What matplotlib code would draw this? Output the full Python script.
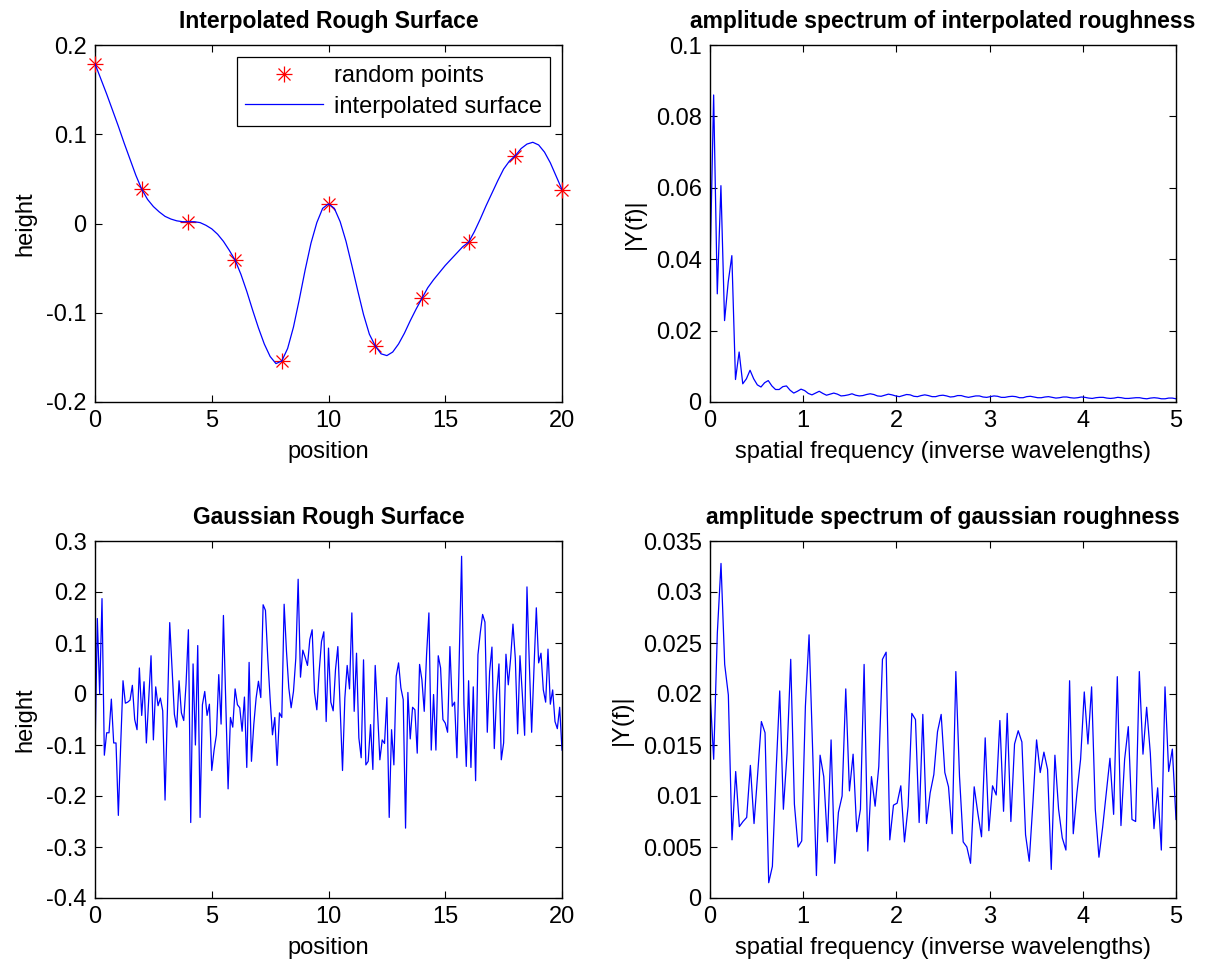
import matplotlib
matplotlib.use("Agg")
import matplotlib.pyplot as plt
import numpy as np
from matplotlib.legend_handler import HandlerTuple
from matplotlib.lines import Line2D
from matplotlib.ticker import FuncFormatter

plt.rcParams["font.family"] = ["Liberation Sans", "DejaVu Sans"]
plt.rcParams["axes.unicode_minus"] = False

# random control points of the rough surface
point_pos = [0, 2, 4, 6, 8, 10, 12, 14, 16, 18, 20]
point_height = [0.179, 0.0385, 0.002, -0.041, -0.154, 0.022, -0.137, -0.084, -0.021, 0.076, 0.038]

surf_height = [
    0.179, 0.162, 0.145, 0.127, 0.109, 0.090, 0.072, 0.054, 0.0385, 0.027,
    0.019, 0.013, 0.008, 0.005, 0.003, 0.002, 0.002, 0.002, 0.001, -0.002,
    -0.006, -0.012, -0.020, -0.030, -0.041, -0.057, -0.076, -0.097, -0.117, -0.135,
    -0.149, -0.157, -0.154, -0.140, -0.116, -0.085, -0.052, -0.022, 0.001, 0.017,
    0.022, 0.017, 0.002, -0.020, -0.047, -0.075, -0.102, -0.124, -0.137, -0.146,
    -0.148, -0.144, -0.135, -0.123, -0.109, -0.096, -0.084, -0.072, -0.063, -0.055,
    -0.047, -0.040, -0.033, -0.026, -0.021, -0.009, 0.005, 0.020, 0.034, 0.048,
    0.061, 0.070, 0.076, 0.084, 0.089, 0.091, 0.088, 0.080, 0.068, 0.053,
    0.038,
]

# amplitude spectrum of the interpolated surface (0..5)
amp_interp = [
    0.037, 0.086, 0.0303, 0.0606, 0.0228, 0.0336, 0.041, 0.0063, 0.014, 0.0051,
    0.0065, 0.0089, 0.0065, 0.0048, 0.0042, 0.0054, 0.006, 0.0045, 0.0035, 0.0035,
    0.0043, 0.0045, 0.0033, 0.0025, 0.003, 0.0036, 0.0032, 0.0024, 0.002, 0.0025,
    0.003, 0.0024, 0.0019, 0.0022, 0.0025, 0.0022, 0.0017, 0.0018, 0.002, 0.0023,
    0.0019, 0.0017, 0.0018, 0.0021, 0.0023, 0.0021, 0.0017, 0.0016, 0.0019, 0.0022,
    0.0020, 0.0017, 0.0015, 0.0018, 0.0021, 0.0020, 0.0016, 0.0015, 0.0018, 0.0020,
    0.0018, 0.0015, 0.0015, 0.0018, 0.0019, 0.0017, 0.0014, 0.0015, 0.0018, 0.0018,
    0.0015, 0.0013, 0.0015, 0.0017, 0.0017, 0.0014, 0.0013, 0.0015, 0.0017, 0.0016,
    0.0013, 0.0013, 0.0015, 0.0016, 0.0015, 0.0012, 0.0012, 0.0015, 0.0016, 0.0014,
    0.0012, 0.0012, 0.0014, 0.0015, 0.0013, 0.0011, 0.0012, 0.0014, 0.0014, 0.0012,
    0.0011, 0.0012, 0.0014, 0.0013, 0.0011, 0.0010, 0.0012, 0.0013, 0.0013, 0.0011,
    0.0010, 0.0011, 0.0013, 0.0012, 0.0010, 0.0010, 0.0011, 0.0012, 0.0012, 0.0010,
    0.0009, 0.0011, 0.0012, 0.0011, 0.0009, 0.0009, 0.0011, 0.0011, 0.0009,
]

# gaussian rough surface, position 0..20 step 0.1
gauss_height = [
    -0.12, 0.148, 0.0, 0.187, -0.12, -0.076, -0.076, -0.01, -0.096, -0.096,
    -0.238, -0.1, 0.026, -0.018, -0.016, -0.012, 0.017, -0.05, -0.07, 0.051,
    -0.042, 0.024, -0.096, -0.01, 0.075, -0.09, 0.014, -0.023, -0.008, -0.033,
    -0.208, -0.03, 0.14, 0.051, -0.04, -0.065, 0.026, -0.037, -0.052, 0.02,
    0.126, -0.252, 0.059, -0.1, 0.095, -0.242, -0.021, 0.005, -0.042, -0.02,
    -0.15, -0.11, -0.08, 0.038, -0.059, 0.154, -0.02, -0.186, -0.046, -0.065,
    0.01, -0.021, -0.027, -0.073, -0.006, -0.144, 0.062, -0.132, -0.06, -0.008,
    0.025, -0.007, 0.175, 0.164, 0.07, -0.01, -0.08, -0.046, -0.14, -0.037,
    -0.046, 0.176, 0.084, 0.012, -0.027, 0.005, 0.07, 0.225, 0.033, 0.086,
    0.072, 0.056, 0.107, 0.126, 0.003, -0.031, 0.044, 0.103, 0.122, -0.054,
    0.09, -0.016, -0.033, 0.048, 0.093, -0.03, -0.15, -0.008, 0.056, 0.01,
    0.159, -0.034, 0.08, -0.086, -0.125, 0.067, -0.139, -0.132, -0.06, -0.148,
    0.056, -0.034, -0.129, -0.09, -0.097, -0.007, -0.242, -0.07, -0.139, 0.035,
    0.061, 0.012, -0.011, -0.263, 0.003, -0.088, -0.026, -0.031, -0.116, 0.058,
    0.028, -0.034, 0.077, 0.159, -0.11, -0.001, -0.11, 0.075, 0.051, -0.05,
    -0.057, -0.075, 0.093, -0.024, -0.016, -0.125, 0.07, 0.27, -0.02, -0.142,
    0.026, -0.144, 0.014, -0.17, 0.077, 0.12, 0.156, 0.141, -0.075, 0.044,
    0.092, -0.107, -0.001, 0.059, -0.129, -0.096, 0.078, 0.018, 0.07, 0.137,
    0.07, -0.078, 0.075, 0.0, -0.081, 0.21, 0.06, -0.075, 0.05, 0.169,
    0.061, 0.08, 0.008, -0.016, 0.088, -0.02, 0.008, -0.054, -0.068, -0.026,
    -0.11,
]

# amplitude spectrum of the gaussian surface (0..5)
amp_gauss = [
    0.0203, 0.0136, 0.0260, 0.0328, 0.0229, 0.0199, 0.0057, 0.0124, 0.0070, 0.0075,
    0.0079, 0.0130, 0.0073, 0.0122, 0.0173, 0.0162, 0.0015, 0.0031, 0.0123, 0.0203,
    0.0087, 0.0142, 0.0234, 0.0092, 0.0050, 0.0056, 0.0188, 0.0258, 0.0142, 0.0022,
    0.0140, 0.0119, 0.0055, 0.0155, 0.0034, 0.0084, 0.0100, 0.0205, 0.0105, 0.0141,
    0.0065, 0.0087, 0.0229, 0.0046, 0.0119, 0.0090, 0.0129, 0.0234, 0.0241, 0.0057,
    0.0091, 0.0093, 0.0110, 0.0055, 0.0090, 0.0181, 0.0175, 0.0074, 0.0180, 0.0073,
    0.0103, 0.0121, 0.0163, 0.0180, 0.0123, 0.0109, 0.0063, 0.0222, 0.0119, 0.0055,
    0.0050, 0.0034, 0.0109, 0.0083, 0.0060, 0.0157, 0.0066, 0.0110, 0.0101, 0.0174,
    0.0085, 0.0181, 0.0075, 0.0151, 0.0164, 0.0153, 0.0062, 0.0036, 0.0093, 0.0155,
    0.0123, 0.0143, 0.0126, 0.0028, 0.0140, 0.0087, 0.0059, 0.0047, 0.0213, 0.0063,
    0.0103, 0.0136, 0.0202, 0.0151, 0.0207, 0.0087, 0.0040, 0.0069, 0.0103, 0.0137,
    0.0082, 0.0217, 0.0071, 0.0136, 0.0168, 0.0077, 0.0075, 0.0222, 0.0141, 0.0187,
    0.0142, 0.0068, 0.0108, 0.0047, 0.0207, 0.0124, 0.0146, 0.0077,
]

surf_pos = np.linspace(0, 20, len(surf_height))
gauss_pos = np.linspace(0, 20, len(gauss_height))
freq_interp = np.linspace(0, 5, len(amp_interp))
freq_gauss = np.linspace(0, 5, len(amp_gauss))

FS = 17
TITLE_FS = 16.5
BLUE = "#0000ff"
RED = "#ff0000"
fmt = FuncFormatter(lambda v, p: "%g" % round(v, 6))


def style(ax, xlim, ylim, yticks, title, xlabel, ylabel):
    ax.set_xlim(*xlim)
    ax.set_ylim(*ylim)
    ax.set_yticks(yticks)
    ax.yaxis.set_major_formatter(fmt)
    ax.xaxis.set_major_formatter(fmt)
    ax.tick_params(direction="in", top=True, right=True, labelsize=FS,
                   length=5, width=0.8, pad=6)
    for s in ax.spines.values():
        s.set_linewidth(1.0)
    ax.set_title(title, fontsize=TITLE_FS, fontweight="bold", pad=12)
    ax.set_xlabel(xlabel, fontsize=FS, labelpad=6)
    ax.set_ylabel(ylabel, fontsize=FS, labelpad=7)


fig = plt.figure(figsize=(12.19, 9.67), dpi=100)
W, H = 1219, 967


def add_axes(l, r, t, b):
    return fig.add_axes([l / W, 1 - b / H, (r - l) / W, (b - t) / H])


ax1 = add_axes(95, 562, 45, 402)
ax2 = add_axes(710, 1176, 45, 402)
ax3 = add_axes(95, 562, 541, 898)
ax4 = add_axes(710, 1176, 541, 898)

# MATLAB-style asterisk: a plus and a cross on top of each other
ax1.plot(point_pos, point_height, linestyle="none", marker="+", color=RED,
         ms=11, mew=0.9, clip_on=False, zorder=3)
ax1.plot(point_pos, point_height, linestyle="none", marker="x", color=RED,
         ms=8, mew=0.9, clip_on=False, zorder=3)
ax1.plot(surf_pos, surf_height, color=BLUE, lw=0.9, zorder=4)
style(ax1, (0, 20), (-0.2, 0.2), [-0.2, -0.1, 0, 0.1, 0.2],
      "Interpolated Rough Surface", "position", "height")
ax1.set_xticks([0, 5, 10, 15, 20])
star = (Line2D([], [], ls="none", marker="+", color=RED, ms=11, mew=0.9),
        Line2D([], [], ls="none", marker="x", color=RED, ms=8, mew=0.9))
line = Line2D([], [], color=BLUE, lw=0.9)
leg = ax1.legend([star, line], ["random points", "interpolated surface"],
                 handler_map={tuple: HandlerTuple(ndivide=1, pad=0)},
                 loc="upper right", bbox_to_anchor=(0.974, 0.966), borderaxespad=0,
                 fontsize=FS, fancybox=False, edgecolor="black", framealpha=1,
                 borderpad=0.35, handlelength=3.3, handletextpad=0.45, labelspacing=0.35)
leg.get_frame().set_linewidth(0.9)

ax2.plot(freq_interp, amp_interp, color=BLUE, lw=0.9)
style(ax2, (0, 5), (0, 0.1), [0, 0.02, 0.04, 0.06, 0.08, 0.1],
      "amplitude spectrum of interpolated roughness",
      "spatial frequency (inverse wavelengths)", "|Y(f)|")
ax2.set_xticks([0, 1, 2, 3, 4, 5])

ax3.plot(gauss_pos, gauss_height, color=BLUE, lw=0.9)
style(ax3, (0, 20), (-0.4, 0.3), [-0.4, -0.3, -0.2, -0.1, 0, 0.1, 0.2, 0.3],
      "Gaussian Rough Surface", "position", "height")
ax3.set_xticks([0, 5, 10, 15, 20])

ax4.plot(freq_gauss, amp_gauss, color=BLUE, lw=0.9)
style(ax4, (0, 5), (0, 0.035), [0, 0.005, 0.01, 0.015, 0.02, 0.025, 0.03, 0.035],
      "amplitude spectrum of gaussian roughness",
      "spatial frequency (inverse wavelengths)", "|Y(f)|")
ax4.set_xticks([0, 1, 2, 3, 4, 5])

fig.savefig("out.png", dpi=100)
plt.close(fig)
